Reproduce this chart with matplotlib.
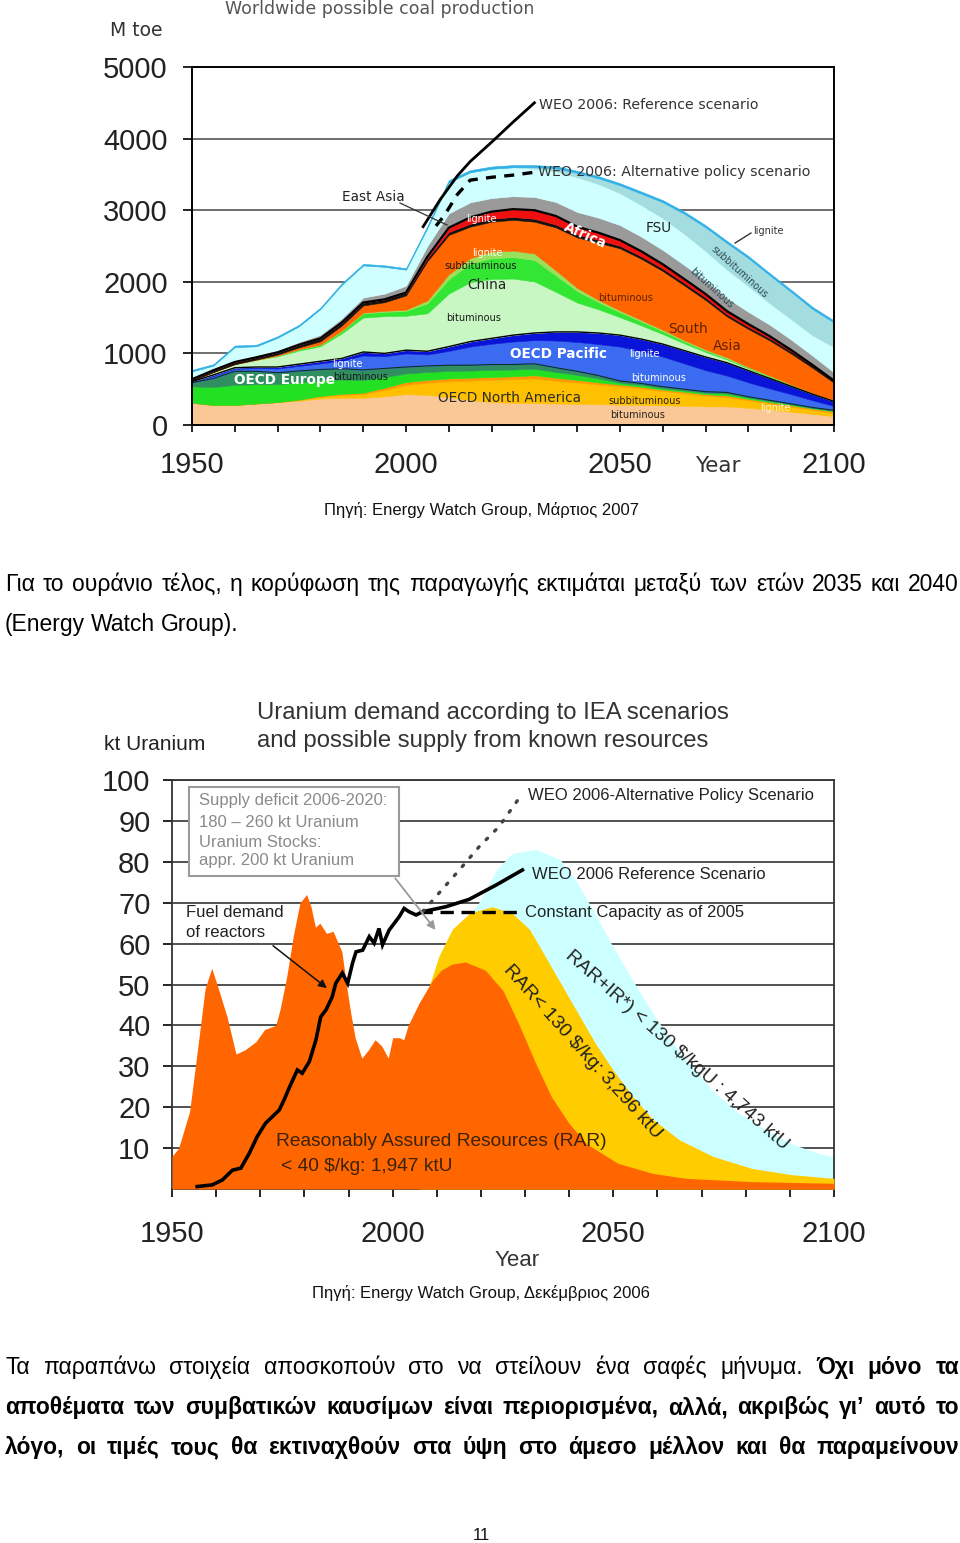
import numpy as np
import matplotlib
matplotlib.use('Agg')
import matplotlib.pyplot as plt
from matplotlib import font_manager
from matplotlib.patches import Rectangle

W, H = 960, 1543

# ------------------------------------------------------------------
# Coal data (M toe), layers stacked bottom -> top
coal_years = [1950, 1955, 1960, 1965, 1970, 1975, 1980, 1985, 1990, 1995,
              2000, 2005, 2010, 2015, 2020, 2025, 2030, 2035, 2040, 2045,
              2050, 2055, 2060, 2065, 2070, 2075, 2080, 2085, 2090, 2095, 2100]
na_bit = [310, 280, 280, 300, 320, 340, 370, 380, 380, 400, 430, 420, 390, 350, 320, 310,
          305, 300, 295, 290, 285, 280, 275, 270, 260, 260, 240, 215, 185, 155, 125]
na_sub = [0, 0, 0, 0, 0, 10, 25, 40, 50, 90, 130, 170, 220, 270, 310, 330,
          345, 320, 300, 275, 255, 230, 200, 175, 150, 130, 105, 85, 70, 55, 45]
na_lig = [0, 0, 0, 0, 0, 5, 10, 15, 20, 30, 40, 40, 40, 40, 40, 40,
          45, 40, 35, 30, 25, 25, 20, 20, 20, 25, 20, 20, 20, 20, 20]
eu_bit = [230, 250, 280, 270, 250, 240, 220, 200, 180, 150, 120, 110, 105, 100, 100, 95,
          90, 80, 70, 55, 25, 25, 20, 20, 20, 25, 20, 15, 15, 10, 10]
eu_lig = [50, 120, 190, 180, 160, 160, 150, 150, 140, 120, 90, 85, 80, 75, 75, 70,
          70, 60, 50, 40, 25, 20, 20, 15, 15, 15, 10, 10, 5, 5, 5]
pa_bit = [10, 35, 35, 45, 60, 70, 85, 110, 200, 170, 190, 160, 200, 260, 290, 320,
          330, 380, 410, 440, 480, 450, 420, 360, 300, 235, 200, 165, 135, 100, 60]
pa_lig = [5, 15, 15, 15, 20, 25, 30, 35, 50, 40, 45, 45, 60, 70, 75, 90,
          100, 120, 140, 155, 160, 170, 175, 180, 185, 180, 165, 140, 110, 85, 65]
cn_bit = [15, 40, 50, 100, 150, 190, 210, 350, 480, 520, 480, 530, 740, 830, 830, 790,
          720, 560, 410, 330, 250, 190, 140, 100, 70, 45, 30, 20, 12, 8, 5]
cn_sub = [0, 0, 0, 0, 10, 15, 20, 30, 60, 60, 70, 140, 200, 260, 290, 300,
          300, 230, 160, 100, 70, 55, 40, 30, 20, 15, 10, 10, 5, 5, 5]
cn_lig = [0, 0, 0, 0, 0, 5, 5, 10, 10, 15, 15, 40, 70, 75, 90, 90,
          90, 70, 45, 30, 25, 20, 20, 15, 15, 15, 10, 10, 10, 5, 5]
sa_bit = [0, 0, 0, 5, 15, 25, 45, 70, 100, 120, 200, 550, 550, 440, 420, 430,
          445, 600, 705, 800, 867, 855, 820, 765, 690, 570, 530, 490, 430, 350, 245]
ea_bit = [20, 25, 30, 30, 30, 35, 40, 40, 40, 40, 40, 40, 40, 40, 40, 40,
          40, 40, 40, 40, 35, 35, 35, 35, 35, 30, 30, 30, 30, 30, 25]
ea_lig = [0, 0, 0, 0, 0, 0, 0, 0, 0, 0, 0, 20, 60, 90, 100, 110,
          120, 120, 110, 100, 80, 70, 60, 55, 50, 45, 40, 30, 20, 10, 5]
africa = [15, 15, 20, 25, 30, 40, 50, 60, 70, 80, 95, 150, 200, 210, 190, 180,
          185, 195, 205, 210, 210, 205, 200, 195, 190, 185, 170, 160, 145, 130, 115]
fsu_bit = [95, 50, 190, 130, 175, 220, 360, 470, 450, 375, 225, 255, 435, 420, 410, 405,
           395, 430, 485, 470, 445, 440, 445, 435, 410, 395, 360, 300, 285, 285, 350]
fsu_sub = [0, 0, 0, 0, 0, 0, 0, 0, 0, 0, 0, 0, 0, 0, 0, 0,
           20, 40, 60, 80, 110, 160, 220, 280, 330, 370, 390, 390, 380, 365, 345]
fsu_lig = [20, 20, 20, 20, 20, 20, 20, 20, 20, 20, 20, 25, 30, 30, 30, 30,
           30, 30, 30, 30, 30, 30, 30, 30, 30, 30, 30, 30, 30, 30, 30]

weo_ref_years = [2004, 2008, 2012, 2015, 2020, 2025, 2030]
weo_ref = [2770, 3150, 3480, 3680, 3950, 4230, 4500]
weo_alt_years = [2007, 2009, 2012, 2015, 2020, 2025, 2030]
weo_alt = [2780, 2930, 3220, 3420, 3460, 3490, 3530]

# ------------------------------------------------------------------
# Uranium data (kt)
rar40_years = [1950, 1951.5, 1954, 1956, 1957.5, 1959, 1960.5, 1962.5, 1964.5, 1966.5,
               1969, 1971, 1973.5, 1974.5, 1976, 1977.5, 1979, 1980.5, 1981.5, 1982.5,
               1983.5, 1985, 1986.5, 1988.5, 1989.5, 1990.5, 1991.5, 1993, 1994.5, 1996,
               1997.5, 1999, 2000, 2001.5, 2002.5, 2003.5, 2006, 2009, 2011, 2013.5,
               2016.5, 2021, 2025, 2028.5, 2032.5, 2036, 2040, 2044, 2051, 2059,
               2066.5, 2081.5, 2100]
rar40 = [8, 10, 19, 36, 49, 54, 49, 42, 33, 34,
         36, 39, 40, 44, 52, 62, 70, 72, 69, 64,
         65, 62.5, 63, 58, 50, 43, 37, 32, 34, 36.5,
         35, 32, 37, 37, 36.5, 40, 45.5, 51, 53.5, 55,
         55.5, 53.5, 48.5, 40.5, 30.5, 22.5, 16, 11, 6.3, 3.8,
         2.6, 1.8, 1.4]
rar130_years = [2006, 2007.5, 2010.5, 2013.5, 2017.5, 2022.5, 2027, 2031, 2034.5, 2038.5,
                2042.5, 2046, 2050, 2054.5, 2059, 2065, 2072.5, 2081.5, 2090.5, 2100]
rar130 = [45.5, 47, 57, 63.5, 67.5, 69, 67.5, 63.5, 57, 49.5,
          42, 35.5, 29, 22.5, 17, 12, 8, 5, 3.5, 2.6]
rarir_years = [2017.5, 2019.5, 2023.5, 2027, 2032.5, 2038, 2041.5, 2045.5, 2049, 2053,
               2057.5, 2062, 2066.5, 2072.5, 2078.5, 2084.5, 2090.5, 2096.5, 2100]
rarir = [67, 70, 78, 82, 83, 80.5, 75.5, 68, 61, 53.5,
         45.5, 38, 31.5, 24, 18.5, 14.5, 11, 8.7, 7.9]

demand_years = [1955.7, 1959.1, 1961.4, 1963.7, 1965.6, 1967.5, 1969.3, 1971.2, 1974.3, 1975.4,
                1976.5, 1978.4, 1979.5, 1981.1, 1982.6, 1983.7, 1984.9, 1986.3, 1987.1, 1988.6,
                1989.8, 1990.9, 1991.7, 1993.2, 1994.7, 1995.8, 1996.9, 1997.7, 1999.2, 2001.5,
                2002.6, 2003.7, 2005.3, 2006.8]
demand = [0.6, 1.0, 2.2, 4.6, 5.1, 8.7, 12.8, 16.1, 19.3, 21.8,
          24.6, 29.1, 28.3, 31.1, 36.4, 42.1, 43.8, 47.0, 50.3, 52.8,
          50.3, 55.2, 58.0, 58.4, 61.7, 60.1, 63.7, 59.7, 63.3, 66.6,
          68.6, 67.8, 67.0, 67.8]
ref_years = [2006.8, 2012, 2017.3, 2023.4, 2029.4]
ref_u = [67.8, 69.0, 70.8, 74.3, 78.0]
alt_years = [2006.8, 2009.8, 2015.1, 2019.6, 2024.1, 2029.4]
alt_u = [67.8, 71.5, 78.0, 83.7, 88.6, 96.7]
const_years = [2006, 2028.7]
const_u = [67.7, 67.7]

# ------------------------------------------------------------------
names = {f.name for f in font_manager.fontManager.ttflist}
body_font = 'Liberation Sans Narrow' if 'Liberation Sans Narrow' in names else 'Liberation Sans'
body_size = 19 if body_font == 'Liberation Sans Narrow' else 16.5
note_size = 13.8 if body_font == 'Liberation Sans Narrow' else 12

fig = plt.figure(figsize=(W / 100, H / 100), dpi=100)


def fx(x):
    return x / W


def fy(y):
    return 1 - y / H


# ============ coal chart ============
ax1 = fig.add_axes([fx(192), fy(425), (834 - 192) / W, (425 - 67) / H])
layers = [na_bit, na_sub, na_lig, eu_bit, eu_lig, pa_bit, pa_lig, cn_bit, cn_sub,
          cn_lig, sa_bit, ea_bit, ea_lig, africa, fsu_bit, fsu_sub, fsu_lig]
colors = ['#FAC896', '#FFC000', '#FF9A00', '#22E022', '#2F8F5F', '#3A6BF0', '#0A14D8',
          '#C9F7C4', '#33E633', '#9BE05A', '#FF6600', '#111111', '#F01010', '#9A9A9A',
          '#CFFFFF', '#A3DDE0', '#2FB0E6']
stack = np.cumsum(np.array(layers, dtype=float), axis=0)
base = np.zeros(len(coal_years))
for top, c in zip(stack, colors):
    ax1.fill_between(coal_years, base, top, color=c, ec=c, lw=0.4, zorder=2)
    base = top
ax1.plot(coal_years, stack[4], color='#10301e', lw=0.8, zorder=3)
ax1.plot(coal_years, stack[6], color='k', lw=1.0, zorder=3)
ax1.plot(coal_years, stack[12], color='k', lw=1.6, zorder=3)

ax1.plot(weo_ref_years, weo_ref, color='k', lw=2.0, zorder=4)
ax1.plot(weo_alt_years, weo_alt, color='k', lw=2.4, ls=(0, (3, 2.5)), zorder=4)

ax1.set_xlim(1950, 2100)
ax1.set_ylim(0, 5000)
ax1.set_yticks(range(0, 5001, 1000))
ax1.set_xticks(range(1950, 2101, 10))
ax1.set_xticklabels([str(y) if y % 50 == 0 else '' for y in range(1950, 2101, 10)])
ax1.tick_params(axis='x', direction='out', length=5, width=1.2, pad=14, labelsize=21)
ax1.tick_params(axis='y', direction='out', length=6.5, width=1.2, pad=11, labelsize=21)
for lab in ax1.get_xticklabels() + ax1.get_yticklabels():
    lab.set_family('Liberation Sans')
    lab.set_color('#222222')
ax1.grid(axis='y', color='#555555', lw=1.2)
ax1.set_axisbelow(True)
for s in ax1.spines.values():
    s.set_linewidth(1.4)
    s.set_zorder(5)

small = dict(family='DejaVu Sans', fontsize=7, ha='center', va='center', zorder=6)
mid = dict(family='DejaVu Sans', fontsize=9.8, ha='center', va='center', zorder=6)
ax1.text(1992.3, 3184, 'East Asia', color='#222222', **mid)
ax1.plot([1998.6, 2009.6], [3100, 2793], color='#333333', lw=0.9, zorder=6)
ax1.text(2017.5, 2877, 'lignite', color='white', **small)
ax1.text(2018.9, 2402, 'lignite', color='white', **small)
ax1.text(2017.5, 2221, 'subbituminous', color='#1a1a1a', **small)
ax1.text(2018.9, 1955, 'China', color='#222222', **mid)
ax1.text(2015.7, 1494, 'bituminous', color='#1a1a1a', **small)
ax1.text(2041.8, 2640, 'Africa', color='white', rotation=-24, fontweight='bold', **mid)
ax1.text(2059.1, 2751, 'FSU', color='#222222', **mid)
ax1.text(2081.1, 2709, 'lignite', color='#333333', family='DejaVu Sans', fontsize=7,
         ha='left', va='center', zorder=6)
ax1.plot([2076.9, 2080.6], [2542, 2681], color='#333333', lw=1.0, zorder=6)
ax1.text(2078, 2137, 'subbituminous', color='#2b4a55', rotation=-42, **small)
ax1.text(2071.3, 1913, 'bituminous', color='#2b4a55', rotation=-42, **small)
ax1.text(2051.4, 1774, 'bituminous', color='#5a2200', **small)
ax1.text(2065.9, 1341, 'South', color='#5a2200', **mid)
ax1.text(2075, 1103, 'Asia', color='#5a2200', **mid)
ax1.text(2035.7, 992, 'OECD Pacific', color='white', fontweight='bold', **mid)
ax1.text(2055.8, 992, 'lignite', color='white', **small)
ax1.text(2058.9, 656, 'bituminous', color='white', **small)
ax1.text(2024.1, 377, 'OECD North America', color='#2a2a2a', **mid)
ax1.text(2055.8, 335, 'subbituminous', color='#222222', **small)
ax1.text(2054.2, 140, 'bituminous', color='#222222', **small)
ax1.text(2086.4, 237, 'lignite', color='#fff3dd', **small)
ax1.text(1971.7, 628, 'OECD Europe', color='white', fontweight='bold', **mid)
ax1.text(1986.4, 852, 'lignite', color='white', **small)
ax1.text(1989.3, 670, 'bituminous', color='#1a1a1a', **small)
ax1.text(2031.1, 4469, 'WEO 2006: Reference scenario', color='#333333',
         family='DejaVu Sans', fontsize=10.2, ha='left', va='center', zorder=6)
ax1.text(2030.8, 3533, 'WEO 2006: Alternative policy scenario', color='#333333',
         family='DejaVu Sans', fontsize=10.2, ha='left', va='center', zorder=6)

fig.text(fx(380), fy(9), 'Worldwide possible coal production', family='DejaVu Sans',
         fontsize=12.5, color='#555555', ha='center', va='center')
fig.text(fx(136), fy(31), 'M toe', family='DejaVu Sans', fontsize=13.5,
         color='#333333', ha='center', va='center')
fig.text(fx(718), fy(466), 'Year', family='DejaVu Sans', fontsize=15.5,
         color='#333333', ha='center', va='center')

# ============ uranium chart ============
ax2 = fig.add_axes([fx(172), fy(1189), (834 - 172) / W, (1189 - 780) / H])
ax2.fill_between(rarir_years, 0, rarir, color='#CCFFFF', lw=0, zorder=2)
ax2.fill_between(rar130_years, 0, rar130, color='#FFCC00', lw=0, zorder=3)
ax2.fill_between(rar40_years, 0, rar40, color='#FF6600', lw=0, zorder=4)
ax2.plot(demand_years, demand, color='k', lw=2.6, zorder=6, solid_joinstyle='miter')
ax2.plot(ref_years, ref_u, color='k', lw=2.6, zorder=6)
ax2.plot(const_years, const_u, color='k', lw=2.4, ls=(0, (4, 2.3)), zorder=6)
ax2.plot(alt_years, alt_u, color='#444444', lw=2.4, ls=(0, (0.6, 3)),
         dash_capstyle='round', zorder=6)

ax2.set_xlim(1950, 2100)
ax2.set_ylim(0, 100)
ax2.set_yticks(range(10, 101, 10))
ax2.set_xticks(range(1950, 2101, 10))
ax2.set_xticklabels([str(y) if y % 50 == 0 else '' for y in range(1950, 2101, 10)])
ax2.tick_params(axis='x', direction='out', length=6, width=1.2, pad=16, labelsize=21)
ax2.tick_params(axis='y', direction='out', length=6.5, width=1.2, pad=9, labelsize=21)
for lab in ax2.get_xticklabels() + ax2.get_yticklabels():
    lab.set_family('Liberation Sans')
    lab.set_color('#222222')
ax2.grid(axis='y', color='#333333', lw=1.2)
ax2.set_axisbelow(True)
for s in ax2.spines.values():
    s.set_linewidth(1.3)
    s.set_color('#333333')

uf = dict(family='Liberation Sans', zorder=8)
box = Rectangle((1953.9, 76.5), 47.6, 21.8, facecolor='white', edgecolor='#9a9a9a',
                lw=1.5, zorder=7)
ax2.add_patch(box)
for txt, yv in zip(['Supply deficit 2006-2020:', '180 \u2013 260 kt Uranium',
                    'Uranium Stocks:', 'appr. 200 kt Uranium'], [94.9, 89.7, 84.8, 80.2]):
    ax2.text(1956.1, yv, txt, color='#8a8a8a', fontsize=12, ha='left', va='center', **uf)
ax2.annotate('', xy=(2010.1, 62.8), xytext=(2000.2, 76.5), zorder=8,
             arrowprops=dict(arrowstyle='-|>', color='#9a9a9a', lw=1.3, mutation_scale=12))
ax2.text(1953.2, 67.5, 'Fuel demand', color='#222222', fontsize=12, ha='left', va='center', **uf)
ax2.text(1953.2, 62.6, 'of reactors', color='#222222', fontsize=12, ha='left', va='center', **uf)
ax2.annotate('', xy=(1985.6, 48.7), xytext=(1972.4, 59.9), zorder=8,
             arrowprops=dict(arrowstyle='-|>', color='#111111', lw=1.1, mutation_scale=12))
ax2.text(2030.7, 96.3, 'WEO 2006-Alternative Policy Scenario', color='#222222',
         fontsize=12, ha='left', va='center', **uf)
ax2.text(2031.6, 77.0, 'WEO 2006 Reference Scenario', color='#222222',
         fontsize=12, ha='left', va='center', **uf)
ax2.text(2030.0, 67.5, 'Constant Capacity as of 2005', color='#222222',
         fontsize=12, ha='left', va='center', **uf)
ax2.text(1973.6, 11.5, 'Reasonably Assured Resources (RAR)', color='#3a2208',
         fontsize=13.8, ha='left', va='center', **uf)
ax2.text(1974.7, 5.6, '< 40 $/kg: 1,947 ktU', color='#3a2208',
         fontsize=13.8, ha='left', va='center', **uf)
ax2.text(2043.0, 33.5, 'RAR< 130 $/kg: 3,296 ktU', color='#222222', fontsize=14,
         rotation=-48, rotation_mode='anchor', ha='center', va='center', **uf)
ax2.text(2064.3, 34.0, 'RAR+IR*) < 130 $/kgU : 4,743 ktU', color='#222222', fontsize=13.8,
         rotation=-41.5, rotation_mode='anchor', ha='center', va='center', **uf)

fig.text(fx(155), fy(745), 'kt Uranium', family='Liberation Sans', fontsize=15,
         color='#222222', ha='center', va='center')
fig.text(fx(257), fy(713), 'Uranium demand according to IEA scenarios',
         family='Liberation Sans', fontsize=17.2, color='#333333', ha='left', va='center')
fig.text(fx(257), fy(741), 'and possible supply from known resources',
         family='Liberation Sans', fontsize=17.2, color='#333333', ha='left', va='center')
fig.text(fx(517), fy(1260), 'Year', family='Liberation Sans', fontsize=16,
         color='#333333', ha='center', va='center')

# ============ page text ============
renderer = fig.canvas.get_renderer()


def text_line(parts, y, size, justify=True, x0=5, x1=959):
    words = [(w, wt) for txt, wt in parts for w in txt.split()]
    objs = [fig.text(0, fy(y), w, fontsize=size, fontweight=wt, family=body_font,
                     va='baseline', ha='left') for w, wt in words]
    widths = [t.get_window_extent(renderer).width for t in objs]
    space = 0.25 * size * 100 / 72
    total = sum(widths) + space * (len(words) - 1)
    if total > x1 - x0:
        k = (x1 - x0) / total
        for t in objs:
            t.set_fontsize(size * k)
        widths = [t.get_window_extent(renderer).width for t in objs]
        space = space * k
    gap = (x1 - x0 - sum(widths)) / (len(words) - 1) if justify else space
    x = x0
    for t, wd in zip(objs, widths):
        t.set_x(fx(x))
        x += wd + gap


fig.text(fx(481), fy(510), 'Πηγή: Energy Watch Group, Μάρτιος 2007', family=body_font,
         fontsize=note_size, ha='center', va='center', color='#111111')
text_line([('Για το ουράνιο τέλος, η κορύφωση της παραγωγής εκτιμάται μεταξύ των ετών 2035 και 2040',
            'normal')], 591, body_size)
text_line([('(Energy Watch Group).', 'normal')], 631, body_size, justify=False)

fig.text(fx(481), fy(1293), 'Πηγή: Energy Watch Group, Δεκέμβριος 2006', family=body_font,
         fontsize=note_size, ha='center', va='center', color='#111111')
text_line([('Τα παραπάνω στοιχεία αποσκοπούν στο να στείλουν ένα σαφές μήνυμα.', 'normal'),
           ('Όχι μόνο τα', 'bold')], 1374, body_size)
text_line([('αποθέματα των συμβατικών καυσίμων είναι περιορισμένα, αλλά, ακριβώς γι\u2019 αυτό το',
            'bold')], 1414, body_size)
text_line([('λόγο, οι τιμές τους θα εκτιναχθούν στα ύψη στο άμεσο μέλλον και θα παραμείνουν',
            'bold')], 1454, body_size)
fig.text(fx(481), fy(1536), '11', family=body_font, fontsize=note_size,
         ha='center', va='center', color='#111111')

fig.savefig('out.png', dpi=100, facecolor='white')
